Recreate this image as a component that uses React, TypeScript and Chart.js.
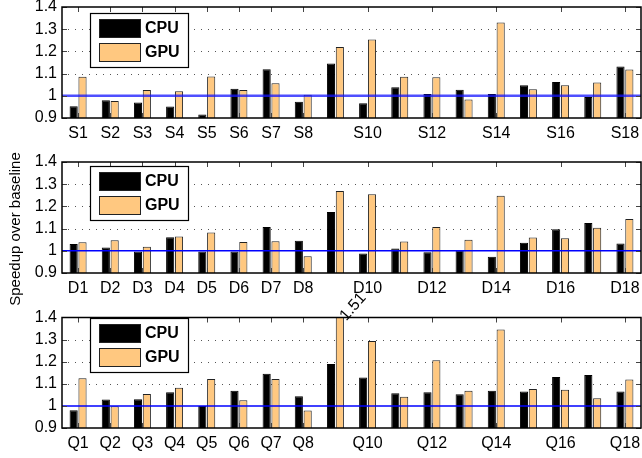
import React, { useEffect, useRef } from 'react';
import { Chart, registerables } from 'chart.js';
Chart.register(...registerables);

const S_LABELS = ['S1','S2','S3','S4','S5','S6','S7','S8','S9','S10','S11','S12','S13','S14','S15','S16','S17','S18'];
const D_LABELS = ['D1','D2','D3','D4','D5','D6','D7','D8','D9','D10','D11','D12','D13','D14','D15','D16','D17','D18'];
const Q_LABELS = ['Q1','Q2','Q3','Q4','Q5','Q6','Q7','Q8','Q9','Q10','Q11','Q12','Q13','Q14','Q15','Q16','Q17','Q18'];
const SHOWN_TICKS = [1, 2, 3, 4, 5, 6, 7, 8, 10, 12, 14, 16, 18];

const S_CPU = [0.953, 0.98, 0.97, 0.952, 0.916, 1.032, 1.12, 0.973, 1.146, 0.967, 1.039, 1.008, 1.027, 1.008, 1.048, 1.062, 0.995, 1.132];
const S_GPU = [1.086, 0.977, 1.026, 1.02, 1.087, 1.026, 1.057, 1.005, 1.22, 1.254, 1.086, 1.083, 0.983, 1.33, 1.029, 1.048, 1.06, 1.119];
const D_CPU = [1.031, 1.015, 0.997, 1.061, 0.997, 0.997, 1.107, 1.045, 1.175, 0.988, 1.01, 0.993, 1.003, 0.973, 1.036, 1.097, 1.125, 1.033];
const D_GPU = [1.039, 1.048, 1.018, 1.064, 1.082, 1.04, 1.043, 0.975, 1.269, 1.255, 1.042, 1.107, 1.05, 1.248, 1.06, 1.057, 1.104, 1.143];
const Q_CPU = [0.98, 1.029, 1.03, 1.062, 1.0, 1.069, 1.145, 1.044, 1.19, 1.128, 1.057, 1.062, 1.053, 1.069, 1.065, 1.131, 1.14, 1.065];
const Q_GPU = [1.125, 0.998, 1.054, 1.082, 1.122, 1.026, 1.122, 0.979, 1.51, 1.294, 1.041, 1.207, 1.069, 1.346, 1.077, 1.073, 1.035, 1.12];

const Y_MIN = 0.9;
const Y_MAX = 1.4;
const Y_STEP = 0.1;
const GRID_VALUES = [1.1, 1.2, 1.3];
const BASELINE = 1.0;
const SERIES_NAMES = ['CPU', 'GPU'];
const Y_TITLE = 'Speedup over baseline';
const ANNOT_INDEX = 8;
const ANNOT_TEXT = '1.51';

const CPU_COLOR = '#000000';
const GPU_COLOR = 'rgb(255,200,128)';
const FONT = '"Liberation Sans", Arial, Helvetica, sans-serif';
const W = 642;
const H = 458;
const X_AXIS_H = 30;
const Y_AXIS_W = 62;

type Panel = {
  labels: string[];
  cpu: number[];
  gpu: number[];
  top: number;
  bottom: number;
  legendTop: number;
  lineColor: string;
  lineWidth: number;
  title?: boolean;
  annot?: boolean;
};

const PANELS: Panel[] = [
  { labels: S_LABELS, cpu: S_CPU, gpu: S_GPU, top: 7, bottom: 118, legendTop: 13, lineColor: 'rgba(20,20,255,0.75)', lineWidth: 2.5 },
  { labels: D_LABELS, cpu: D_CPU, gpu: D_GPU, top: 162, bottom: 273, legendTop: 166, lineColor: '#0000ff', lineWidth: 1.5, title: true },
  { labels: Q_LABELS, cpu: Q_CPU, gpu: Q_GPU, top: 317.5, bottom: 428, legendTop: 318, lineColor: '#0000ff', lineWidth: 1.5, annot: true },
];

function makePlugin(p: Panel) {
  return {
    id: 'panelDeco',
    beforeDatasetsDraw(chart: any) {
      const { ctx, chartArea } = chart;
      const y = chart.scales.y;
      ctx.save();
      ctx.strokeStyle = '#555';
      ctx.lineWidth = 1;
      ctx.setLineDash([1, 6]);
      GRID_VALUES.forEach((v) => {
        const py = Math.round(y.getPixelForValue(v)) + 0.5;
        ctx.beginPath();
        ctx.moveTo(chartArea.left + 6, py);
        ctx.lineTo(chartArea.right - 6, py);
        ctx.stroke();
      });
      ctx.restore();
    },
    afterDatasetsDraw(chart: any) {
      const { ctx, chartArea } = chart;
      const x = chart.scales.x;
      const y = chart.scales.y;
      const L = chartArea.left, R = chartArea.right, T = chartArea.top, B = chartArea.bottom;
      ctx.save();
      const by = y.getPixelForValue(BASELINE);
      ctx.strokeStyle = p.lineColor;
      ctx.lineWidth = p.lineWidth;
      ctx.beginPath();
      ctx.moveTo(L, by);
      ctx.lineTo(R, by);
      ctx.stroke();
      ctx.strokeStyle = '#444';
      ctx.lineWidth = 1;
      const tl = 5;
      for (let v = Y_MIN; v <= Y_MAX + 1e-9; v += Y_STEP) {
        const py = Math.round(y.getPixelForValue(v)) + 0.5;
        ctx.beginPath();
        ctx.moveTo(L, py); ctx.lineTo(L + tl, py);
        ctx.moveTo(R, py); ctx.lineTo(R - tl, py);
        ctx.stroke();
      }
      SHOWN_TICKS.forEach((n) => {
        const px = Math.round(x.getPixelForValue(n - 1)) + 0.5;
        ctx.beginPath();
        ctx.moveTo(px, B); ctx.lineTo(px, B - tl);
        ctx.moveTo(px, T); ctx.lineTo(px, T + tl);
        ctx.stroke();
      });
      ctx.strokeStyle = '#000';
      ctx.lineWidth = 1.5;
      ctx.strokeRect(L, T, R - L, B - T);
      const lt = p.legendTop;
      ctx.fillStyle = '#fff';
      ctx.fillRect(90.5, lt + 0.5, 98, 54);
      ctx.strokeStyle = '#000';
      ctx.lineWidth = 1.2;
      ctx.strokeRect(90.5, lt + 0.5, 98, 54);
      const sw = [
        { c: CPU_COLOR, y0: lt + 6 },
        { c: GPU_COLOR, y0: lt + 30 },
      ];
      ctx.font = 'bold 16px ' + FONT;
      ctx.textBaseline = 'middle';
      ctx.textAlign = 'left';
      sw.forEach((s, i) => {
        ctx.fillStyle = s.c;
        ctx.fillRect(99, s.y0, 42, 19);
        ctx.strokeStyle = '#222';
        ctx.lineWidth = 1;
        ctx.strokeRect(99.5, s.y0 + 0.5, 41, 18);
        ctx.fillStyle = '#000';
        ctx.fillText(SERIES_NAMES[i], 145, s.y0 + 10);
      });
      if (p.annot) {
        const el = chart.getDatasetMeta(1).data[ANNOT_INDEX];
        ctx.save();
        ctx.translate(el.x + 3, T + 1);
        ctx.rotate(-Math.PI * 0.27);
        ctx.font = '16px ' + FONT;
        ctx.fillStyle = '#000';
        ctx.textAlign = 'left';
        ctx.textBaseline = 'middle';
        ctx.fillText(ANNOT_TEXT, 0, 0);
        ctx.restore();
      }
      if (p.title) {
        ctx.save();
        ctx.translate(16, 229);
        ctx.rotate(-Math.PI / 2);
        ctx.font = '15px ' + FONT;
        ctx.fillStyle = '#000';
        ctx.textAlign = 'center';
        ctx.textBaseline = 'middle';
        ctx.fillText(Y_TITLE, 0, 0);
        ctx.restore();
      }
      ctx.restore();
    },
  };
}

function PanelChart({ p }: { p: Panel }) {
  const ref = useRef<HTMLCanvasElement | null>(null);
  useEffect(() => {
    if (!ref.current) return;
    const chart = new Chart(ref.current, {
      type: 'bar',
      data: {
        labels: p.labels,
        datasets: [
          { label: SERIES_NAMES[0], data: p.cpu, backgroundColor: CPU_COLOR, borderColor: '#000', borderWidth: 1 },
          { label: SERIES_NAMES[1], data: p.gpu, backgroundColor: GPU_COLOR, borderColor: '#222', borderWidth: 1 },
        ],
      },
      options: {
        responsive: false,
        maintainAspectRatio: false,
        devicePixelRatio: 1,
        animation: false,
        events: [],
        layout: { padding: { left: 0, right: 1, top: p.top, bottom: H - p.bottom - X_AXIS_H } },
        datasets: { bar: { categoryPercentage: 0.55, barPercentage: 0.92 } },
        plugins: { legend: { display: false }, tooltip: { enabled: false } },
        scales: {
          x: {
            grid: { display: false, drawTicks: false },
            border: { display: false },
            ticks: {
              autoSkip: false,
              maxRotation: 0,
              minRotation: 0,
              padding: 6,
              color: '#000',
              font: { family: FONT, size: 16 },
              callback: (_v: any, i: number) => (SHOWN_TICKS.includes(i + 1) ? p.labels[i] : ''),
            },
            afterFit: (s: any) => { s.height = X_AXIS_H; s.paddingLeft = 0; s.paddingRight = 0; },
          },
          y: {
            min: Y_MIN,
            max: Y_MAX,
            grid: { display: false, drawTicks: false },
            border: { display: false },
            ticks: {
              stepSize: Y_STEP,
              autoSkip: false,
              padding: 5,
              color: '#000',
              font: { family: FONT, size: 16 },
              callback: (v: any) => String(Number(Number(v).toFixed(1))),
            },
            afterFit: (s: any) => { s.width = Y_AXIS_W; s.paddingTop = 0; s.paddingBottom = 0; },
          },
        },
      },
      plugins: [makePlugin(p)],
    } as any);
    return () => chart.destroy();
  }, [p]);
  return (
    <canvas
      ref={ref}
      width={W}
      height={H}
      style={{ position: 'absolute', left: 0, top: 0, width: W, height: H, display: 'block' }}
    />
  );
}

export default function App() {
  return (
    <div style={{ position: 'fixed', left: 0, top: 0, width: W, height: H, background: '#fff' }}>
      {PANELS.map((p, i) => (
        <PanelChart key={i} p={p} />
      ))}
    </div>
  );
}
